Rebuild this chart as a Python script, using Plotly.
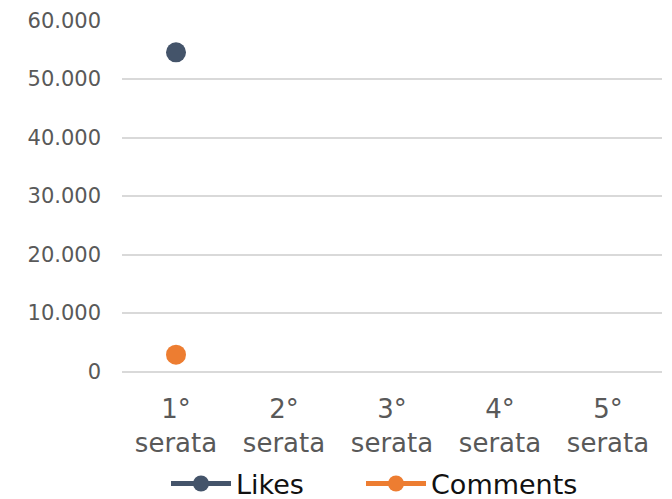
import plotly.graph_objects as go

categories = ["1°<br>serata", "2°<br>serata", "3°<br>serata", "4°<br>serata", "5°<br>serata"]
likes = [54550, None, None, None, None]
comments = [2900, None, None, None, None]
tick_vals = [0, 10000, 20000, 30000, 40000, 50000, 60000]

FONT = "DejaVu Sans"

fig = go.Figure()
fig.add_trace(go.Scatter(x=categories, y=likes, name="Likes", mode="lines+markers",
                         line=dict(color="#44546a", width=5),
                         marker=dict(color="#44546a", size=20), legend="legend"))
fig.add_trace(go.Scatter(x=categories, y=comments, name="Comments", mode="lines+markers",
                         line=dict(color="#ed7d31", width=5),
                         marker=dict(color="#ed7d31", size=20), legend="legend2"))

leg_common = dict(orientation="h", xanchor="left", y=-0.318, yanchor="middle",
                  font=dict(family=FONT, size=27, color="#111111"),
                  itemwidth=60, bgcolor="rgba(0,0,0,0)")

# page body has an 8px margin, so the figure is sized/offset to compensate
fig.update_layout(
    width=664, height=491,
    margin=dict(l=114, r=10, t=12, b=127, autoexpand=False),
    paper_bgcolor="white", plot_bgcolor="white",
    separators=",.",
    font=dict(family=FONT, size=20, color="#595959"),
    showlegend=True,
    legend=dict(x=0.0815, **leg_common),
    legend2=dict(x=0.4426, **leg_common),
    xaxis=dict(type="category", showgrid=False, zeroline=False, showline=False,
               ticks="", automargin=False, ticklabelstandoff=19,
               tickfont=dict(size=26, color="#595959"), range=[-0.5, 4.5]),
    yaxis=dict(range=[-60, 60080], tickvals=tick_vals, tickformat=",d", automargin=False,
               showgrid=True, gridcolor="#d9d9d9", gridwidth=1.5,
               zeroline=True, zerolinecolor="#d9d9d9", zerolinewidth=1.5,
               ticks="", ticklabelstandoff=20,
               tickfont=dict(size=21, color="#595959")),
)

fig.write_html("out.html")
